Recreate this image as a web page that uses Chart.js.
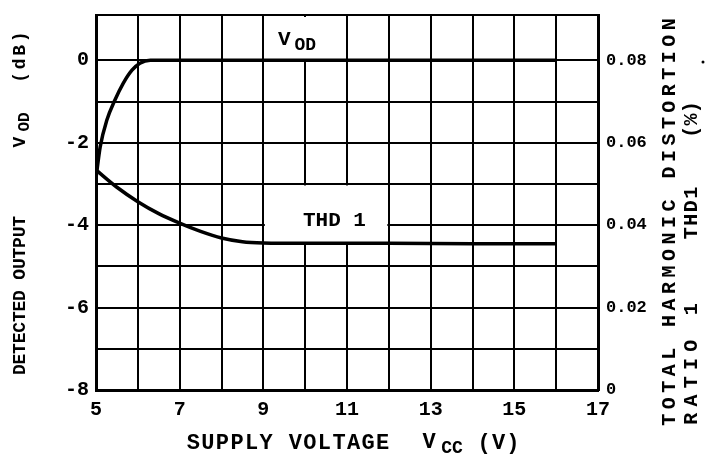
<!DOCTYPE html>
<html>
<head>
<meta charset="utf-8">
<script src="https://cdn.jsdelivr.net/npm/chart.js@4.4.1/dist/chart.umd.min.js"></script>
<style>
  html, body { margin: 0; padding: 0; background: #fff; }
  #wrap { width: 706px; height: 455px; }
</style>
</head>
<body>
<div id="wrap"><canvas id="lineChart" width="706" height="455"></canvas></div>
<script>
    // supply voltage Vcc (V) and detected output Vod (dB)
    var vodVolts = [5, 5.1, 5.26, 5.45, 5.65, 5.86, 6.05, 6.3, 7, 16];
    var vodDb = [-2.85, -2.1, -1.45, -0.97, -0.56, -0.24, -0.07, 0, 0, 0];

    // supply voltage Vcc (V) and THD1 (%)
    var thdVolts = [5, 5.5, 6, 6.5, 7, 7.5, 8, 8.5, 9, 10, 12, 14, 16];
    var thdPct = [0.0534, 0.0492, 0.0457, 0.0428, 0.0405, 0.0385, 0.0369, 0.036, 0.0357, 0.0356, 0.0356, 0.0355, 0.0355];

    var xTicks = [5, 6, 7, 8, 9, 10, 11, 12, 13, 14, 15, 16, 17];
    var xLabels = [5, 7, 9, 11, 13, 15, 17];
    var dbTicks = [-8, -7, -6, -5, -4, -3, -2, -1, 0, 1.1];
    var dbLabels = [-8, -6, -4, -2, 0];
    var thdTicks = [0, 0.02, 0.04, 0.06, 0.08];

    var MONO = '"Liberation Mono", "DejaVu Sans Mono", monospace';

    function toPoints(xs, ys) {
        return xs.map(function (x, i) { return { x: x, y: ys[i] }; });
    }

    // draws a string with its characters spread evenly from a to b along the text direction
    function spread(ctx, str, a, b, y) {
        var step = (b - a) / str.length;
        for (var i = 0; i < str.length; i++) {
            ctx.fillText(str[i], a + step * (i + 0.5), y);
        }
    }

    var decorations = {
        id: 'decorations',
        beforeDatasetsDraw: function (chart) {
            var ctx = chart.ctx, x = chart.scales.x, y = chart.scales.y;
            ctx.save();
            ctx.fillStyle = '#fff';
            // blank patches behind the curve labels
            ctx.fillRect(x.getPixelForValue(9) + 1.5, y.top + 2, x.getPixelForValue(11) - x.getPixelForValue(9) - 3, y.getPixelForValue(0) - y.top - 3);
            ctx.fillRect(x.getPixelForValue(9) + 1.5, y.getPixelForValue(-3) + 1.5, x.getPixelForValue(12) - x.getPixelForValue(9) - 3, y.getPixelForValue(-4.45) - y.getPixelForValue(-3) - 2);
            ctx.restore();
        },
        afterDraw: function (chart) {
            var ctx = chart.ctx, x = chart.scales.x, y = chart.scales.y;
            ctx.save();
            ctx.fillStyle = '#000';
            ctx.textAlign = 'center';
            ctx.textBaseline = 'middle';

            // curve labels
            var lx = x.getPixelForValue(9.5), ly = y.getPixelForValue(0.5);
            ctx.font = 'bold 21px ' + MONO;
            ctx.fillText('V', lx, ly);
            ctx.font = 'bold 18px ' + MONO;
            ctx.fillText('OD', lx + 21, ly + 6);
            ctx.font = 'bold 21px ' + MONO;
            spread(ctx, 'THD 1', x.getPixelForValue(9.95), x.getPixelForValue(11.45), y.getPixelForValue(-3.9));

            // x axis title
            ctx.font = 'bold 22px ' + MONO;
            spread(ctx, 'SUPPLY VOLTAGE', 186, 390, 443);
            ctx.fillText('V', 429, 442);
            ctx.font = 'bold 18px ' + MONO;
            ctx.fillText('CC', 452, 448);
            ctx.font = 'bold 22px ' + MONO;
            spread(ctx, '(V)', 477, 520, 443);

            // left axis title, reads upward
            ctx.save();
            ctx.translate(20, 0);
            ctx.rotate(-Math.PI / 2);
            ctx.font = 'bold 18px ' + MONO;
            spread(ctx, 'DETECTED OUTPUT', -375, -216, 0);
            ctx.fillText('V', -142, 0);
            ctx.font = 'bold 16px ' + MONO;
            ctx.fillText('OD', -122, 5);
            ctx.font = 'bold 18px ' + MONO;
            spread(ctx, '(dB)', -84, -30, 0);
            ctx.restore();

            // right axis title, two lines
            ctx.save();
            ctx.translate(670, 0);
            ctx.rotate(-Math.PI / 2);
            ctx.font = 'bold 20px ' + MONO;
            spread(ctx, 'TOTAL HARMONIC DISTORTION', -428, -16, 0);
            spread(ctx, 'RATIO 1', -428, -300, 22);
            spread(ctx, 'THD1', -240, -186, 22);
            spread(ctx, '(%)', -138, -101, 22);
            ctx.restore();

            ctx.beginPath();
            ctx.arc(703, 62, 1.5, 0, Math.PI * 2);
            ctx.fill();
            ctx.restore();
        }
    };

    // drop the half-label padding Chart.js keeps above the top tick
    function noPad(s) { s.paddingTop = 0; }

    var ctx = document.getElementById('lineChart').getContext('2d');
    var myChart = new Chart(ctx, {
        type: 'line',
        data: {
            datasets: [{
                label: 'VOD',
                data: toPoints(vodVolts, vodDb),
                yAxisID: 'y',
                borderColor: '#000',
                borderWidth: 3.5,
                pointRadius: 0,
                cubicInterpolationMode: 'monotone',
                fill: false
            }, {
                label: 'THD1',
                data: toPoints(thdVolts, thdPct),
                yAxisID: 'y1',
                borderColor: '#000',
                borderWidth: 3.5,
                pointRadius: 0,
                cubicInterpolationMode: 'monotone',
                fill: false
            }]
        },
        options: {
            responsive: false,
            animation: false,
            layout: { padding: { top: 15, left: 0, right: 0, bottom: 0 } },
            plugins: { legend: { display: false }, tooltip: { enabled: false } },
            scales: {
                x: {
                    type: 'linear',
                    min: 5,
                    max: 17,
                    afterBuildTicks: function (s) { s.ticks = xTicks.map(function (v) { return { value: v }; }); },
                    afterFit: function (s) { s.height = 65; },
                    grid: { color: '#000', lineWidth: 2, drawTicks: false },
                    border: { color: '#000', width: 3 },
                    ticks: {
                        padding: 8,
                        color: '#000',
                        font: { family: MONO, size: 20, weight: 'bold' },
                        maxRotation: 0,
                        autoSkip: false,
                        callback: function (v) { return xLabels.indexOf(v) >= 0 ? String(v) : ''; }
                    }
                },
                y: {
                    position: 'left',
                    min: -8,
                    max: 1.1,
                    afterBuildTicks: function (s) { s.ticks = dbTicks.map(function (v) { return { value: v }; }); },
                    afterFit: function (s) { s.width = 96; noPad(s); },
                    grid: { color: '#000', lineWidth: 2, drawTicks: false },
                    border: { color: '#000', width: 3 },
                    ticks: {
                        padding: 7,
                        color: '#000',
                        font: { family: MONO, size: 20, weight: 'bold' },
                        autoSkip: false,
                        callback: function (v) { return dbLabels.indexOf(v) >= 0 ? String(v) : ''; }
                    }
                },
                y1: {
                    position: 'right',
                    min: 0,
                    max: 0.091,
                    afterBuildTicks: function (s) { s.ticks = thdTicks.map(function (v) { return { value: v }; }); },
                    afterFit: function (s) { s.width = 108; noPad(s); },
                    grid: { drawOnChartArea: false, drawTicks: false },
                    border: { color: '#000', width: 3 },
                    ticks: {
                        padding: 8,
                        color: '#000',
                        font: { family: MONO, size: 17, weight: 'bold' },
                        autoSkip: false,
                        callback: function (v) { return v === 0 ? '0' : v.toFixed(2); }
                    }
                }
            }
        },
        plugins: [decorations]
    });
</script>
</body>
</html>
